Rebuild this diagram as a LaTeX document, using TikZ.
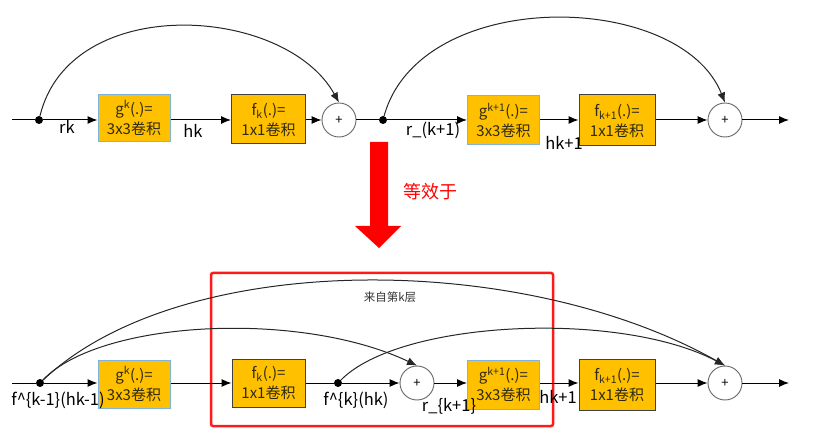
\documentclass[tikz,border=0pt]{standalone}
\usepackage{fontspec}
\setmainfont{Noto Sans CJK SC}
\usetikzlibrary{arrows.meta}
\definecolor{boxfill}{HTML}{FFC000}
\definecolor{gborder}{HTML}{7FB3D9}
\definecolor{fborder}{HTML}{404040}
\definecolor{boxtext}{HTML}{302A10}
\definecolor{circborder}{HTML}{666666}
\definecolor{frame}{HTML}{FF1A1A}
\begin{document}
\begin{tikzpicture}[x=1pt,y=-1pt,
  gblock/.style={draw=gborder, fill=boxfill, line width=1pt, minimum width=72pt, minimum height=47pt, inner sep=0pt, align=center, font=\fontsize{15}{20}\selectfont, text=boxtext},
  fblock/.style={draw=fborder, fill=boxfill, line width=1pt, minimum width=74pt, minimum height=49pt, inner sep=0pt, align=center, font=\fontsize{15}{20}\selectfont, text=boxtext},
  sumnode/.style={circle, draw=circborder, fill=white, line width=0.9pt, minimum size=34pt, inner sep=0pt, font=\fontsize{13}{13}\selectfont},
  dotnode/.style={circle, fill=black, minimum size=8pt, inner sep=0pt},
  lbl/.style={font=\fontsize{16.5}{18}\selectfont, inner sep=0pt},
  conn/.style={-{Latex[length=10pt,width=8pt]}, line width=1pt},
  plain/.style={line width=1pt},
  arc/.style={-{Latex[length=10pt,width=8pt]}, line width=1pt, draw=black!85}
]
\useasboundingbox (0,0) rectangle (827,438);

% ---------- top row ----------
\coordinate (s1) at (12,120);
\node[dotnode] (d1) at (39,120) {};
\node[gblock] (g1) at (134,118) {g\textsuperscript{k}(.)=\\3x3卷积};
\node[fblock] (f1) at (268.5,119.5) {f\textsubscript{k}(.)=\\1x1卷积};
\node[sumnode] (c1) at (339,120) {+};
\node[dotnode] (d2) at (383,120) {};
\node[gblock, minimum height=49pt] (g2) at (503.5,120.5) {g\textsuperscript{k+1}(.)=\\3x3卷积};
\node[fblock, minimum width=76pt, minimum height=51pt] (f2) at (617,120.5) {f\textsubscript{k+1}(.)=\\1x1卷积};
\node[sumnode] (c2) at (725,120) {+};
\coordinate (e1) at (789,120);

\draw[plain] (s1) -- (d1);
\draw[conn] (d1) -- (g1.west |- d1);
\draw[conn] (g1.east |- d1) -- (f1.west |- d1);
\draw[conn] (f1.east |- d1) -- (c1);
\draw[plain] (c1) -- (d2);
\draw[conn] (d2) -- (g2.west |- d2);
\draw[conn] (g2.east |- d2) -- (f2.west |- d2);
\draw[conn] (f2.east |- d2) -- (c2);
\draw[conn] (c2) -- (e1);

\draw[arc] (d1) .. controls (70,-8) and (285,5) .. (c1.north);
\draw[arc] (d2) .. controls (420,-14) and (680,-10) .. (c2.north);

\node[lbl] (t1) at (67,127) {rk};
\node[lbl] (t2) at (193,131) {hk};
\node[lbl] (t3) at (433,130) {r\_(k+1)};
\node[lbl] (t4) at (564,143) {hk+1};

% ---------- red arrow ----------
\fill[red] (370,142) -- (388,142) -- (388,226) -- (401,226) -- (379,248) -- (355,226) -- (370,226) -- cycle;
\node[font=\fontsize{18}{18}\selectfont, text=red, inner sep=0pt] (eq) at (430,192) {等效于};

% ---------- bottom row ----------
\draw[frame, line width=2.5pt, rounded corners=2pt] (211,273) rectangle (553,426);

\coordinate (s2) at (12,383);
\node[dotnode] (d3) at (40,383) {};
\node[gblock, minimum height=48pt] (g3) at (134,384) {g\textsuperscript{k}(.)=\\3x3卷积};
\node[fblock, minimum width=73pt, minimum height=48pt] (f3) at (268.5,383) {f\textsubscript{k}(.)=\\1x1卷积};
\node[dotnode] (d4) at (338,383) {};
\node[sumnode] (c3) at (417,383) {+};
\node[gblock, minimum height=49pt] (g4) at (503.5,384.5) {g\textsuperscript{k+1}(.)=\\3x3卷积};
\node[fblock, minimum width=76pt, minimum height=51pt] (f4) at (617,384.5) {f\textsubscript{k+1}(.)=\\1x1卷积};
\node[sumnode] (c4) at (725,383) {+};
\coordinate (e2) at (789,383);

\draw[plain] (s2) -- (d3);
\draw[conn] (d3) -- (g3.west |- d3);
\draw[conn] (g3.east |- d3) -- (f3.west |- d3);
\draw[plain] (f3.east |- d3) -- (d4);
\draw[conn] (d4) -- (c3);
\draw[conn] (c3) -- (g4.west |- c3);
\draw[conn] (g4.east |- c3) -- (f4.west |- c3);
\draw[conn] (f4.east |- c3) -- (c4);
\draw[conn] (c4) -- (e2);

\draw[arc] (d3) .. controls (180,250) and (520,250) .. (c4.north);
\draw[arc] (d3) .. controls (100,320) and (300,310) .. (c3.north);
\draw[arc] (d4) .. controls (400,320) and (620,310) .. (c4.north);

\node[font=\fontsize{11.5}{12}\selectfont, text=black!80, inner sep=0pt] (src) at (390,297) {来自第k层};
\node[lbl] (b1) at (58,400) {f\^{}\{k-1\}(hk-1)};
\node[lbl] (b2) at (356,400) {f\^{}\{k\}(hk)};
\node[lbl] (b3) at (449,406) {r\_\{k+1\}};
\node[lbl] (b4) at (558,397) {hk+1};
\end{tikzpicture}
\end{document}
